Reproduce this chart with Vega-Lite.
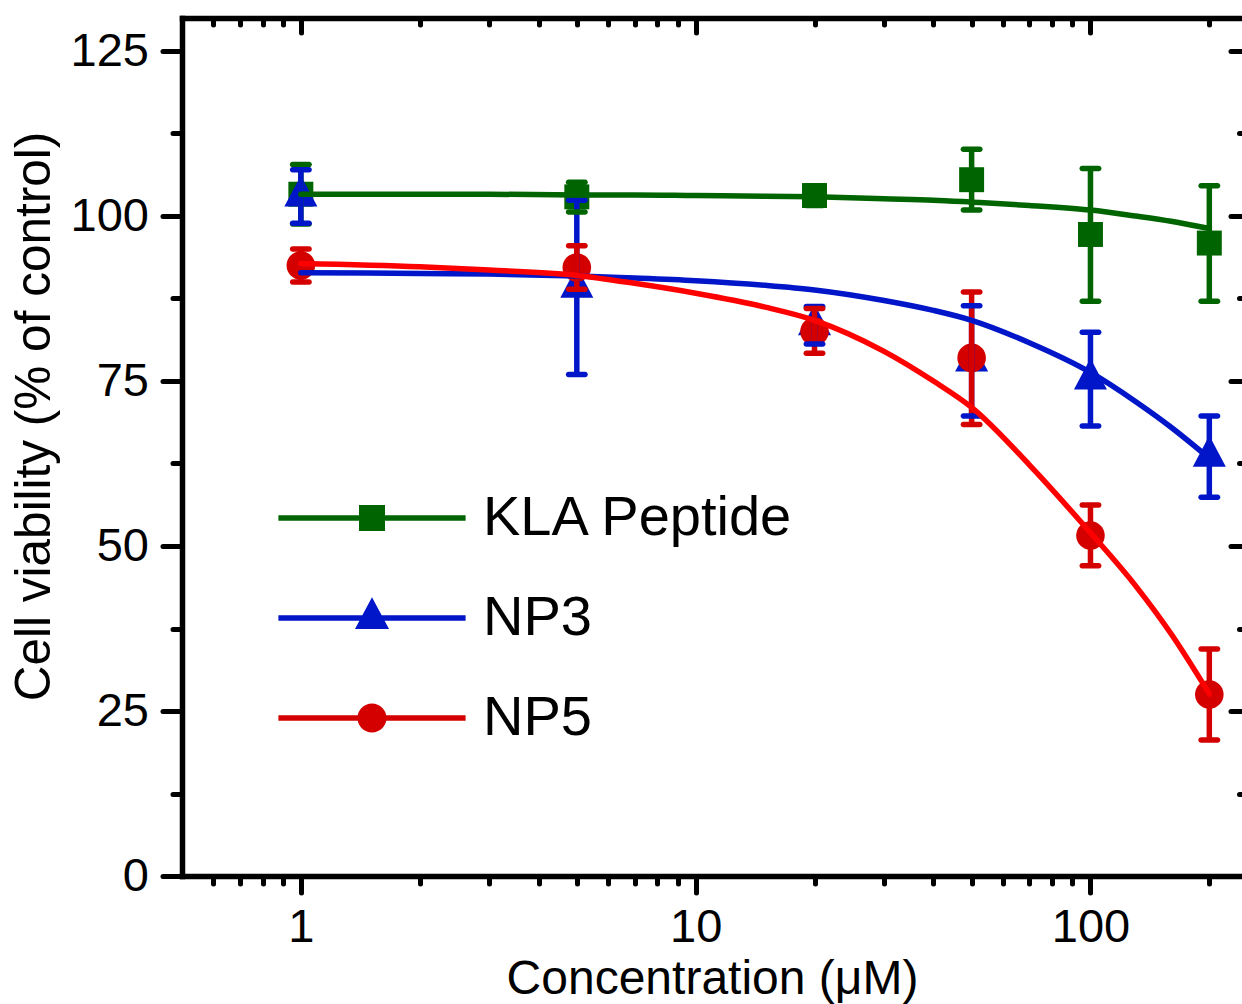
{
  "$schema": "https://vega.github.io/schema/vega-lite/v6.json",
  "width": 1060,
  "height": 858,
  "autosize": {"type": "none"},
  "padding": {"left": 182, "top": 18, "right": 0, "bottom": 128},
  "background": "white",
  "config": {
    "view": {"stroke": null},
    "axis": {
      "grid": false,
      "domainColor": "black",
      "tickColor": "black",
      "labelColor": "black",
      "titleColor": "black",
      "labelFont": "Liberation Sans",
      "titleFont": "Liberation Sans",
      "titleFontWeight": "normal",
      "tickWidth": 5,
      "tickCap": "round",
      "domainWidth": 5.5,
      "domainCap": "square",
      "zindex": 1
    }
  },
  "datasets": {
    "pts": [
      {"series": "KLA Peptide", "conc": 1, "mean": 103.3, "lo": 98.8, "hi": 107.8},
      {"series": "KLA Peptide", "conc": 5, "mean": 102.9, "lo": 100.6, "hi": 105.1},
      {"series": "KLA Peptide", "conc": 20, "mean": 103.1, "lo": 101.6, "hi": 104.6},
      {"series": "KLA Peptide", "conc": 50, "mean": 105.5, "lo": 100.9, "hi": 110.1},
      {"series": "KLA Peptide", "conc": 100, "mean": 97.2, "lo": 87.1, "hi": 107.2},
      {"series": "KLA Peptide", "conc": 200, "mean": 95.9, "lo": 87.1, "hi": 104.6},
      {"series": "NP3", "conc": 1, "mean": 103.0, "lo": 98.9, "hi": 107.0},
      {"series": "NP3", "conc": 5, "mean": 89.2, "lo": 76.0, "hi": 102.4},
      {"series": "NP3", "conc": 20, "mean": 83.5, "lo": 80.6, "hi": 86.3},
      {"series": "NP3", "conc": 50, "mean": 78.0, "lo": 69.7, "hi": 86.4},
      {"series": "NP3", "conc": 100, "mean": 75.3, "lo": 68.2, "hi": 82.4},
      {"series": "NP3", "conc": 200, "mean": 63.6, "lo": 57.4, "hi": 69.7},
      {"series": "NP5", "conc": 1, "mean": 92.5, "lo": 90.0, "hi": 95.0},
      {"series": "NP5", "conc": 5, "mean": 92.2, "lo": 88.9, "hi": 95.5},
      {"series": "NP5", "conc": 20, "mean": 82.5, "lo": 79.2, "hi": 86.0},
      {"series": "NP5", "conc": 50, "mean": 78.5, "lo": 68.4, "hi": 88.5},
      {"series": "NP5", "conc": 100, "mean": 51.6, "lo": 47.0, "hi": 56.2},
      {"series": "NP5", "conc": 200, "mean": 27.5, "lo": 20.6, "hi": 34.4}
    ],
    "fit": [
      {"series": "KLA Peptide", "conc": 1, "v": 103.3},
      {"series": "KLA Peptide", "conc": 2, "v": 103.3},
      {"series": "KLA Peptide", "conc": 3, "v": 103.3},
      {"series": "KLA Peptide", "conc": 5, "v": 103.2},
      {"series": "KLA Peptide", "conc": 7, "v": 103.2},
      {"series": "KLA Peptide", "conc": 10, "v": 103.1},
      {"series": "KLA Peptide", "conc": 15, "v": 103.0},
      {"series": "KLA Peptide", "conc": 20, "v": 102.9},
      {"series": "KLA Peptide", "conc": 30, "v": 102.6},
      {"series": "KLA Peptide", "conc": 40, "v": 102.4},
      {"series": "KLA Peptide", "conc": 50, "v": 102.1},
      {"series": "KLA Peptide", "conc": 70, "v": 101.6},
      {"series": "KLA Peptide", "conc": 100, "v": 100.9},
      {"series": "KLA Peptide", "conc": 130, "v": 100.0},
      {"series": "KLA Peptide", "conc": 160, "v": 99.2},
      {"series": "KLA Peptide", "conc": 200, "v": 98.1},
      {"series": "NP3", "conc": 1, "v": 91.4},
      {"series": "NP3", "conc": 2, "v": 91.3},
      {"series": "NP3", "conc": 3, "v": 91.2},
      {"series": "NP3", "conc": 5, "v": 90.9},
      {"series": "NP3", "conc": 7, "v": 90.6},
      {"series": "NP3", "conc": 10, "v": 90.2},
      {"series": "NP3", "conc": 15, "v": 89.5},
      {"series": "NP3", "conc": 20, "v": 88.8},
      {"series": "NP3", "conc": 30, "v": 87.2},
      {"series": "NP3", "conc": 40, "v": 85.7},
      {"series": "NP3", "conc": 50, "v": 84.2},
      {"series": "NP3", "conc": 70, "v": 80.8},
      {"series": "NP3", "conc": 100, "v": 76.3},
      {"series": "NP3", "conc": 130, "v": 71.9},
      {"series": "NP3", "conc": 160, "v": 68.0},
      {"series": "NP3", "conc": 200, "v": 63.3},
      {"series": "NP5", "conc": 1, "v": 92.8},
      {"series": "NP5", "conc": 2, "v": 92.3},
      {"series": "NP5", "conc": 3, "v": 91.8},
      {"series": "NP5", "conc": 5, "v": 91.0},
      {"series": "NP5", "conc": 7, "v": 89.8},
      {"series": "NP5", "conc": 10, "v": 88.3},
      {"series": "NP5", "conc": 15, "v": 86.2},
      {"series": "NP5", "conc": 20, "v": 84.2},
      {"series": "NP5", "conc": 30, "v": 79.5},
      {"series": "NP5", "conc": 40, "v": 75.0},
      {"series": "NP5", "conc": 50, "v": 71.0},
      {"series": "NP5", "conc": 70, "v": 62.3},
      {"series": "NP5", "conc": 100, "v": 52.0},
      {"series": "NP5", "conc": 130, "v": 44.0},
      {"series": "NP5", "conc": 160, "v": 36.7},
      {"series": "NP5", "conc": 200, "v": 27.6}
    ]
  },
  "layer": [
    {
      "data": {"name": "pts"},
      "mark": {"type": "point", "filled": true, "size": 676, "opacity": 1, "strokeWidth": 0},
      "encoding": {
        "x": {
          "field": "conc", "type": "quantitative",
          "scale": {"type": "log", "domain": [0.5, 242], "nice": false},
          "axis": {"orient": "bottom", "values": [1, 10, 100], "format": "d", "tickSize": 16.5, "labelFontSize": 47, "labelPadding": 12, "title": "Concentration (μM)", "titleFontSize": 48, "titlePadding": 5, "domain": true}
        },
        "y": {
          "field": "mean", "type": "quantitative",
          "scale": {"domain": [0, 130], "nice": false, "zero": false},
          "axis": {"orient": "left", "values": [0, 25, 50, 75, 100, 125], "format": "d", "tickSize": 19.5, "labelFontSize": 47, "labelPadding": 14, "title": "Cell viability (% of control)", "titleFontSize": 49.5, "titlePadding": 11, "titleY": 398, "domain": true}
        },
        "color": {"field": "series", "type": "nominal", "scale": {"domain": ["KLA Peptide", "NP3", "NP5"], "range": ["#006400", "#0016C8", "#D40000"]}, "legend": null},
        "shape": {"field": "series", "type": "nominal", "scale": {"domain": ["KLA Peptide", "NP3", "NP5"], "range": ["M-0.96,-0.96H0.96V0.96H-0.96Z", "M0,-1.6L1.27,0.8L-1.27,0.8Z", "M-1.1,0A1.1,1.1 0 1 1 1.1,0A1.1,1.1 0 1 1 -1.1,0Z"]}, "legend": null}
      }
    },
    {
      "data": {"name": "pts"},
      "mark": {"type": "rule", "strokeWidth": 5.5},
      "encoding": {
        "x": {"field": "conc", "type": "quantitative", "scale": {"type": "log", "domain": [0.5, 242], "nice": false},
          "axis": {"orient": "bottom", "values": [0.6, 0.7, 0.8, 0.9, 2, 3, 4, 5, 6, 7, 8, 9, 20, 30, 40, 50, 60, 70, 80, 90, 200], "tickSize": 7.5, "labels": false, "domain": false, "title": null}},
        "y": {"field": "lo", "type": "quantitative", "scale": {"domain": [0, 130], "nice": false, "zero": false},
          "axis": {"orient": "left", "values": [12.5, 37.5, 62.5, 87.5, 112.5], "tickSize": 9.5, "labels": false, "domain": false, "title": null}},
        "y2": {"field": "hi"},
        "color": {"field": "series", "type": "nominal", "scale": {"domain": ["KLA Peptide", "NP3", "NP5"], "range": ["#006400", "#0016C8", "#D40000"]}, "legend": null}
      }
    },
    {
      "data": {"name": "pts"},
      "mark": {"type": "tick", "orient": "horizontal", "size": 22, "thickness": 5.5, "cornerRadius": 2.75, "opacity": 1},
      "encoding": {
        "x": {"field": "conc", "type": "quantitative", "scale": {"type": "log", "domain": [0.5, 242], "nice": false},
          "axis": {"orient": "top", "values": [1, 10, 100], "tickSize": -14.5, "labels": false, "domain": true, "title": null}},
        "y": {"field": "hi", "type": "quantitative", "scale": {"domain": [0, 130], "nice": false, "zero": false},
          "axis": {"orient": "right", "values": [0, 25, 50, 75, 100, 125], "tickSize": -11.5, "labels": false, "domain": false, "title": null}},
        "color": {"field": "series", "type": "nominal", "scale": {"domain": ["KLA Peptide", "NP3", "NP5"], "range": ["#006400", "#0016C8", "#D40000"]}, "legend": null}
      }
    },
    {
      "data": {"name": "pts"},
      "mark": {"type": "tick", "orient": "horizontal", "size": 22, "thickness": 5.5, "cornerRadius": 2.75, "opacity": 1},
      "encoding": {
        "x": {"field": "conc", "type": "quantitative", "scale": {"type": "log", "domain": [0.5, 242], "nice": false},
          "axis": {"orient": "top", "values": [0.6, 0.7, 0.8, 0.9, 2, 3, 4, 5, 6, 7, 8, 9, 20, 30, 40, 50, 60, 70, 80, 90, 200], "tickSize": -6.5, "labels": false, "domain": false, "title": null}},
        "y": {"field": "lo", "type": "quantitative", "scale": {"domain": [0, 130], "nice": false, "zero": false},
          "axis": {"orient": "right", "values": [12.5, 37.5, 62.5, 87.5, 112.5], "tickSize": -3, "labels": false, "domain": false, "title": null}},
        "color": {"field": "series", "type": "nominal", "scale": {"domain": ["KLA Peptide", "NP3", "NP5"], "range": ["#006400", "#0016C8", "#D40000"]}, "legend": null}
      }
    },
    {
      "data": {"name": "fit"},
      "mark": {"type": "line", "strokeWidth": 5.5, "interpolate": "monotone", "strokeCap": "round"},
      "encoding": {
        "x": {"field": "conc", "type": "quantitative", "scale": {"type": "log", "domain": [0.5, 242], "nice": false}, "axis": null},
        "y": {"field": "v", "type": "quantitative", "scale": {"domain": [0, 130], "nice": false, "zero": false}, "axis": null},
        "stroke": {"field": "series", "type": "nominal", "scale": {"domain": ["KLA Peptide", "NP3", "NP5"], "range": ["#006400", "#0016C8", "#FF0000"]}, "legend": null}
      }
    },
    {
      "data": {"name": "pts"},
      "transform": [{"filter": "false"}],
      "mark": {"type": "point", "filled": true, "size": 676, "opacity": 1, "strokeWidth": 0},
      "encoding": {
        "x": {"field": "conc", "type": "quantitative", "scale": {"type": "log", "domain": [0.5, 242], "nice": false}, "axis": null},
        "y": {"field": "mean", "type": "quantitative", "scale": {"domain": [0, 130], "nice": false, "zero": false}, "axis": null},
        "color": {
          "field": "series", "type": "nominal",
          "scale": {"domain": ["KLA Peptide", "NP3", "NP5"], "range": ["#006400", "#0016C8", "#D40000"]},
          "legend": {"orient": "none", "legendX": 162, "legendY": 472, "title": null, "labelFontSize": 56, "labelFont": "Liberation Sans", "labelColor": "black", "labelOffset": 83, "symbolSize": 676, "rowPadding": 44, "padding": 0, "symbolStrokeWidth": 0, "labelLimit": 0, "encode": {"labels": {"update": {"dy": {"value": 14}}}}}
        },
        "shape": {
          "field": "series", "type": "nominal",
          "scale": {"domain": ["KLA Peptide", "NP3", "NP5"], "range": [
            "M-7.2,-0.21H7.2V0.21H-7.2Z M-1,-1H1V1H-1Z",
            "M-7.2,-0.21H7.2V0.21H-7.2Z M0,-1.6L1.31,0.85L-1.31,0.85Z",
            "M-7.2,-0.21H7.2V0.21H-7.2Z M-1.115,0A1.115,1.115 0 1 1 1.115,0A1.115,1.115 0 1 1 -1.115,0Z"
          ]},
          "legend": {"orient": "none", "legendX": 162, "legendY": 472, "title": null, "labelFontSize": 56, "labelFont": "Liberation Sans", "labelColor": "black", "labelOffset": 83, "symbolSize": 676, "rowPadding": 44, "padding": 0, "symbolStrokeWidth": 0, "labelLimit": 0, "encode": {"labels": {"update": {"dy": {"value": 14}}}}}
        }
      }
    }
  ],
  "resolve": {
    "axis": {"x": "independent", "y": "independent"},
    "scale": {"color": "independent", "shape": "independent", "stroke": "independent"}
  }
}
